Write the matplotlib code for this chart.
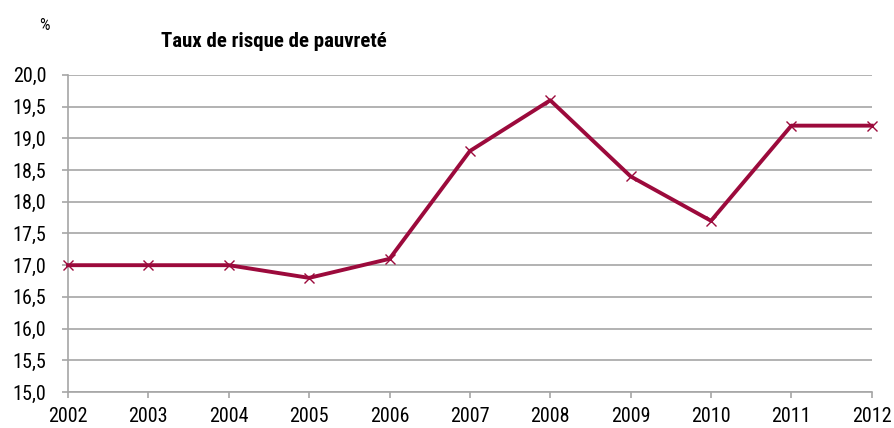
import matplotlib
matplotlib.use('Agg')
import matplotlib.pyplot as plt
from matplotlib import font_manager
from matplotlib.ticker import FuncFormatter, MultipleLocator

# données
annees = [2002, 2003, 2004, 2005, 2006, 2007, 2008, 2009, 2010, 2011, 2012]
taux = [17.0, 17.0, 17.0, 16.8, 17.1, 18.8, 19.6, 18.4, 17.7, 19.2, 19.2]

# police étroite (type Helvetica Condensed) si dispo
noms = {f.name for f in font_manager.fontManager.ttflist}
if 'Roboto Condensed' in noms:
    plt.rcParams['font.family'] = ['Roboto Condensed', 'DejaVu Sans']
else:
    plt.rcParams['font.family'] = ['DejaVu Sans']
    plt.rcParams['font.stretch'] = 'condensed'

gris = '#a6a6a6'
rouge = '#9c0a3c'

fig = plt.figure(figsize=(8.95, 4.28), dpi=100)
ax = fig.add_axes([0.076, 0.084, 0.898, 0.741])

ax.plot(annees, taux, color=rouge, lw=2.8, marker='x', ms=7.5, mew=1.0, zorder=3, clip_on=False)

ax.set_xlim(2002, 2012)
ax.set_ylim(15, 20)
ax.set_xticks(annees)
ax.yaxis.set_major_locator(MultipleLocator(0.5))
ax.yaxis.set_major_formatter(FuncFormatter(lambda v, p: f"{v:.1f}".replace('.', ',')))
ax.grid(axis='y', color=gris, lw=1.2)
ax.set_axisbelow(True)

for s in ['top', 'right']:
    ax.spines[s].set_visible(False)
for s in ['left', 'bottom']:
    ax.spines[s].set_color(gris)
    ax.spines[s].set_linewidth(1.2)
ax.tick_params(axis='both', colors=gris, labelcolor='black', labelsize=14.5, length=4.5, width=1.2)
ax.tick_params(axis='x', pad=6.5)
ax.tick_params(axis='y', pad=11)

fig.text(0.0497, 0.93, '%', fontsize=12, ha='center', va='baseline')
fig.text(0.18, 0.89, 'Taux de risque de pauvreté', fontsize=15, fontweight='bold', ha='left', va='baseline')

fig.savefig('out.png', dpi=100)
